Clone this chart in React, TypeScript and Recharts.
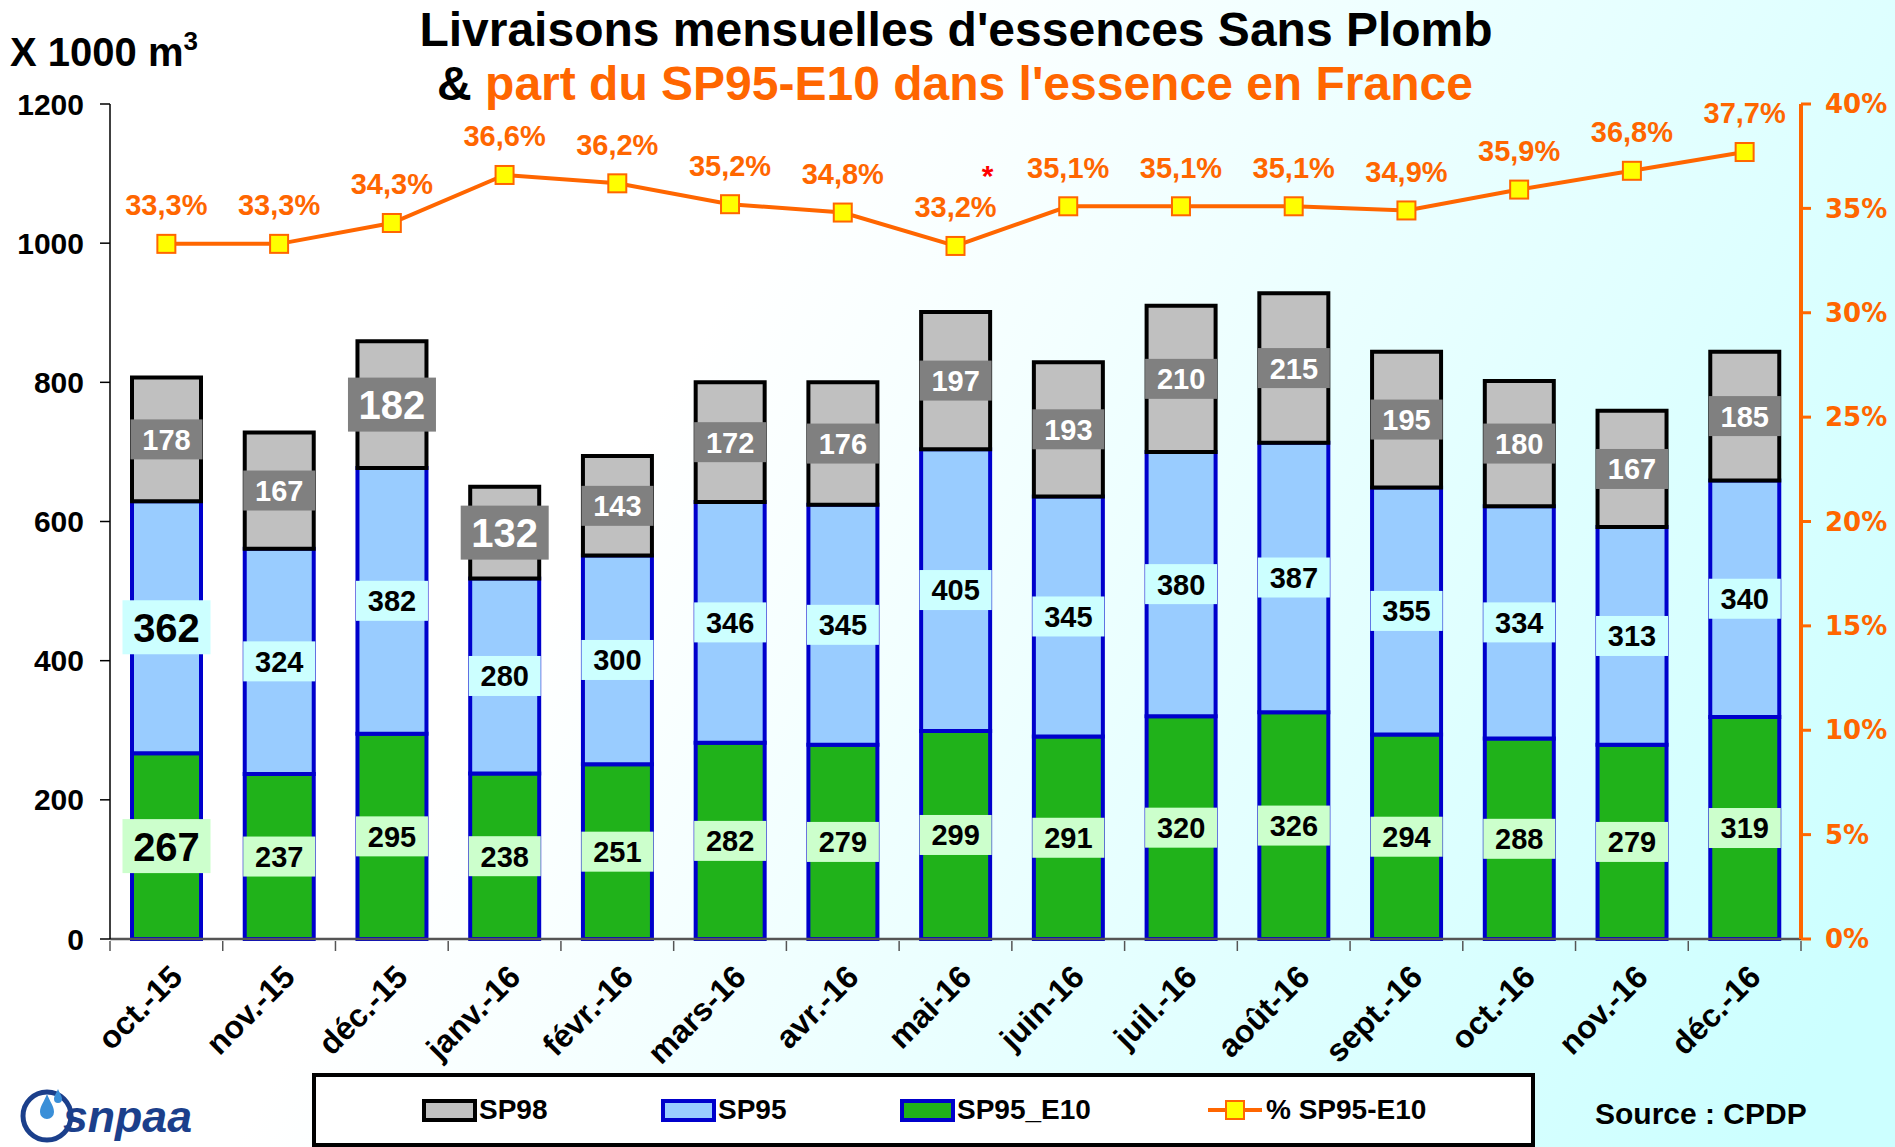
import React from "react"
import { Bar, ComposedChart, LabelList, Line, XAxis, YAxis } from "recharts"

const months = [
  "oct.-15", "nov.-15", "déc.-15", "janv.-16", "févr.-16", "mars-16", "avr.-16", "mai-16",
  "juin-16", "juil.-16", "août-16", "sept.-16", "oct.-16", "nov.-16", "déc.-16",
]
const sp95e10 = [267, 237, 295, 238, 251, 282, 279, 299, 291, 320, 326, 294, 288, 279, 319]
const sp95 = [362, 324, 382, 280, 300, 346, 345, 405, 345, 380, 387, 355, 334, 313, 340]
const sp98 = [178, 167, 182, 132, 143, 172, 176, 197, 193, 210, 215, 195, 180, 167, 185]
const shareE10 = [33.3, 33.3, 34.3, 36.6, 36.2, 35.2, 34.8, 33.2, 35.1, 35.1, 35.1, 34.9, 35.9, 36.8, 37.7]
const shareNotes = ["", "", "", "", "", "", "", "*", "", "", "", "", "", "", ""]
const volumeTicks = [0, 200, 400, 600, 800, 1000, 1200]
const shareTicks = [0, 5, 10, 15, 20, 25, 30, 35, 40]

const data = months.map((month, i) => ({
  month,
  e10: sp95e10[i],
  sp95: sp95[i],
  sp98: sp98[i],
  share: shareE10[i],
}))

const W = 1895
const H = 1147
const M = { top: 104, right: 10, left: 10, bottom: 78 }
const LEFT_W = 100
const RIGHT_W = 84
const PLOT_W = W - M.left - M.right - LEFT_W - RIGHT_W
const CAT_W = PLOT_W / months.length

const ORANGE = "#FF6600"
const FONT = "'Liberation Sans', Arial, sans-serif"

// labels drawn larger in the original
const bigE10 = [0]
const bigSp95 = [0]
const bigSp98 = [2, 3]

const boxLabel = (bg: string, color: string, big: number[]) => (props: any) => {
  const { x, y, width, height, value, index } = props
  const isBig = big.includes(index)
  const w = isBig ? 88 : 72
  const h = isBig ? 54 : 40
  const cx = Number(x) + Number(width) / 2
  const cy = Number(y) + Number(height) / 2
  return (
    <g>
      <rect x={cx - w / 2} y={cy - h / 2} width={w} height={h} fill={bg} />
      <text
        x={cx}
        y={cy}
        dy="0.36em"
        textAnchor="middle"
        fontFamily={FONT}
        fontWeight="bold"
        fontSize={isBig ? 40 : 29}
        fill={color}
      >
        {value}
      </text>
    </g>
  )
}

const ShareLabel = (props: any) => {
  const { x, y, value, index } = props
  return (
    <g>
      <text
        x={x}
        y={y - 39}
        dy="0.36em"
        textAnchor="middle"
        fontFamily={FONT}
        fontWeight="bold"
        fontSize={29}
        fill={ORANGE}
      >
        {Number(value).toFixed(1).replace(".", ",") + "%"}
      </text>
      {shareNotes[index] ? (
        <text x={x + 32} y={y - 60} textAnchor="middle" fontFamily={FONT} fontWeight="bold" fontSize={30} fill="#FF0000">
          {shareNotes[index]}
        </text>
      ) : null}
    </g>
  )
}

const SquareDot = (props: any) => {
  const { cx, cy, index } = props
  return <rect key={index} x={cx - 9} y={cy - 9} width={18} height={18} fill="#FFFF00" stroke={ORANGE} strokeWidth={2} />
}

const MonthTick = (props: any) => {
  const { x, y, payload, index } = props
  const last = index === months.length - 1
  return (
    <g>
      <line x1={x - CAT_W / 2} y1={y} x2={x - CAT_W / 2} y2={y + 10} stroke="#555" strokeWidth={1.5} />
      {last && <line x1={x + CAT_W / 2} y1={y} x2={x + CAT_W / 2} y2={y + 10} stroke="#555" strokeWidth={1.5} />}
      <text
        transform={`translate(${x + 2},${y + 22}) rotate(-45)`}
        textAnchor="end"
        dy="0.7em"
        fontFamily={FONT}
        fontWeight="bold"
        fontSize={32}
        fill="#000"
      >
        {payload.value}
      </text>
    </g>
  )
}

function Legend() {
  const txt: React.CSSProperties = { fontFamily: FONT, fontWeight: "bold", fontSize: 28, color: "#000" }
  const sw = (fill: string, border: string): React.CSSProperties => ({
    width: 47, height: 15, background: fill, border: `4px solid ${border}`, marginRight: 2,
  })
  return (
    <div
      style={{
        position: "absolute", left: 312, top: 1073, width: 1215, height: 66,
        border: "4px solid #000", background: "#fff", display: "flex", alignItems: "center",
      }}
    >
      <div style={{ position: "absolute", left: 106, display: "flex", alignItems: "center" }}>
        <div style={sw("#C0C0C0", "#000")} /><span style={txt}>SP98</span>
      </div>
      <div style={{ position: "absolute", left: 345, display: "flex", alignItems: "center" }}>
        <div style={sw("#99CCFF", "#0000CC")} /><span style={txt}>SP95</span>
      </div>
      <div style={{ position: "absolute", left: 584, display: "flex", alignItems: "center" }}>
        <div style={sw("#20B21A", "#0000CC")} /><span style={txt}>SP95_E10</span>
      </div>
      <div style={{ position: "absolute", left: 892, display: "flex", alignItems: "center" }}>
        <svg width={54} height={24}>
          <line x1={0} y1={12} x2={54} y2={12} stroke={ORANGE} strokeWidth={4} />
          <rect x={18} y={3} width={18} height={18} fill="#FFFF00" stroke={ORANGE} strokeWidth={2} />
        </svg>
        <span style={{ ...txt, marginLeft: 4 }}>% SP95-E10</span>
      </div>
    </div>
  )
}

export default function App() {
  return (
    <div
      style={{
        position: "absolute", left: 0, top: 0, width: W, height: H, overflow: "hidden",
        background: "linear-gradient(120deg, #ffffff 35%, #ccffff 95%)",
      }}
    >
      <ComposedChart width={W} height={H} data={data} margin={M}>
        <XAxis
          dataKey="month"
          height={130}
          interval={0}
          tickLine={false}
          tickSize={0}
          axisLine={{ stroke: "#555", strokeWidth: 2.5 }}
          tick={<MonthTick />}
        />
        <YAxis
          yAxisId="vol"
          width={LEFT_W}
          domain={[0, 1200]}
          ticks={volumeTicks}
          tickSize={10}
          tickMargin={16}
          axisLine={{ stroke: "#000", strokeWidth: 1.5 }}
          tickLine={{ stroke: "#000", strokeWidth: 1.5 }}
          tick={{ fontFamily: FONT, fontWeight: "bold", fontSize: 30, fill: "#000" }}
        />
        <YAxis
          yAxisId="pct"
          orientation="right"
          width={RIGHT_W}
          domain={[0, 40]}
          ticks={shareTicks}
          tickSize={10}
          tickMargin={14}
          axisLine={{ stroke: ORANGE, strokeWidth: 4 }}
          tickLine={{ stroke: ORANGE, strokeWidth: 3 }}
          tickFormatter={(v: number) => `${v}%`}
          tick={{ fontFamily: "'DejaVu Sans', sans-serif", fontWeight: "bold", fontSize: 26, fill: ORANGE, textAnchor: "start" }}
        />
        <Bar dataKey="e10" stackId="a" yAxisId="vol" barSize={69} fill="#20B21A" stroke="#0000CC" strokeWidth={4} isAnimationActive={false}>
          <LabelList dataKey="e10" content={boxLabel("#CCFFCC", "#000", bigE10)} />
        </Bar>
        <Bar dataKey="sp95" stackId="a" yAxisId="vol" barSize={69} fill="#99CCFF" stroke="#0000CC" strokeWidth={4} isAnimationActive={false}>
          <LabelList dataKey="sp95" content={boxLabel("#CCFFFF", "#000", bigSp95)} />
        </Bar>
        <Bar dataKey="sp98" stackId="a" yAxisId="vol" barSize={69} fill="#C0C0C0" stroke="#000" strokeWidth={4} isAnimationActive={false}>
          <LabelList dataKey="sp98" content={boxLabel("#808080", "#fff", bigSp98)} />
        </Bar>
        <Line
          dataKey="share"
          yAxisId="pct"
          stroke={ORANGE}
          strokeWidth={4}
          dot={<SquareDot />}
          activeDot={false}
          isAnimationActive={false}
        >
          <LabelList dataKey="share" content={<ShareLabel />} />
        </Line>
      </ComposedChart>

      <svg width={W} height={H} style={{ position: "absolute", left: 0, top: 0, pointerEvents: "none" }}>
        <text x={956} y={46} textAnchor="middle" fontFamily={FONT} fontWeight="bold" fontSize={48} fill="#000">
          Livraisons mensuelles d'essences Sans Plomb
        </text>
        <text x={955} y={100} textAnchor="middle" fontFamily={FONT} fontWeight="bold" fontSize={48}>
          <tspan fill="#000">& </tspan>
          <tspan fill={ORANGE}>part du SP95-E10 dans l'essence en France</tspan>
        </text>
        <text x={10} y={66} fontFamily={FONT} fontWeight="bold" fontSize={40} fill="#000">
          X 1000  m<tspan dy={-16} fontSize={26}>3</tspan>
        </text>
        <text x={1595} y={1124} fontFamily={FONT} fontWeight="bold" fontSize={30} fill="#000">
          Source : CPDP
        </text>
        <circle cx={47} cy={1116} r={24} fill="none" stroke="#1B3F8B" strokeWidth={5} />
        <path d="M47 1094 C50 1102 54 1106 54 1112 A7 7 0 0 1 40 1112 C40 1106 44 1102 47 1094 Z" fill="#3A8FD8" />
        <path d="M58 1089 C60 1094 62 1096 62 1099 A4 4 0 0 1 54 1099 C54 1096 56 1094 58 1089 Z" fill="#3A8FD8" />
        <text x={63} y={1132} fontFamily={FONT} fontWeight="bold" fontStyle="italic" fontSize={44} fill="#1B3F8B"
          textLength={129} lengthAdjust="spacingAndGlyphs">
          snpaa
        </text>
      </svg>
      <Legend />
    </div>
  )
}
